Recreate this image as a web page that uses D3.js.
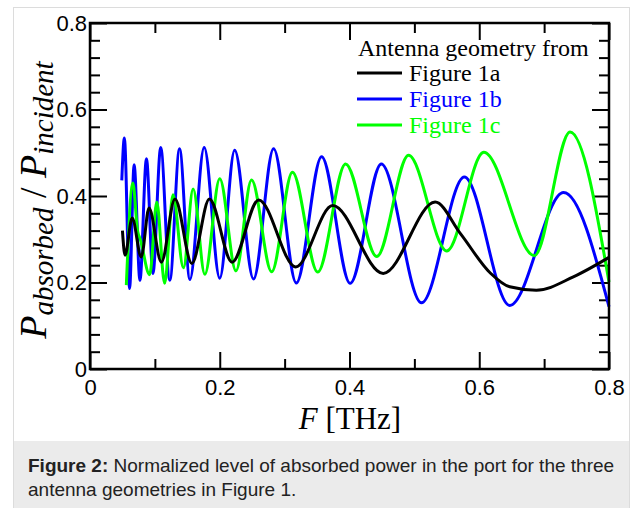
<!DOCTYPE html>
<html><head><meta charset="utf-8">
<script src="https://cdn.jsdelivr.net/npm/d3@7"></script>
<style>body{margin:0;background:#fff}svg{display:block}</style>
</head><body>
<svg id="chart" width="636" height="508"></svg>
<script>
// ---- data ----
const freqA = [0.050,0.054,0.065,0.079,0.091,0.110,0.131,0.157,0.184,0.219,0.260,0.317,0.374,0.452,0.532,0.571,0.617,0.647,0.688,0.745,0.800];
const valA  = [0.320,0.263,0.349,0.259,0.372,0.247,0.393,0.244,0.393,0.247,0.391,0.236,0.378,0.221,0.386,0.313,0.222,0.190,0.182,0.213,0.258];

const freqB = [0.049,0.053,0.061,0.068,0.077,0.087,0.097,0.109,0.123,0.138,0.154,0.176,0.200,0.223,0.252,0.283,0.318,0.357,0.401,0.449,0.511,0.577,0.647,0.730,0.800];
const valB  = [0.436,0.534,0.186,0.472,0.205,0.486,0.221,0.512,0.205,0.509,0.207,0.512,0.210,0.506,0.208,0.509,0.199,0.491,0.198,0.474,0.153,0.444,0.147,0.408,0.144];

const freqC = [0.056,0.066,0.0735,0.0775,0.092,0.103,0.115,0.128,0.144,0.159,0.177,0.200,0.225,0.249,0.280,0.312,0.351,0.394,0.442,0.491,0.550,0.607,0.685,0.740,0.800];
const valC  = [0.194,0.430,0.318,0.300,0.218,0.386,0.198,0.403,0.234,0.416,0.219,0.440,0.227,0.437,0.225,0.455,0.224,0.474,0.260,0.494,0.273,0.501,0.262,0.548,0.201];

const seriesNames  = ["Figure 1a","Figure 1b","Figure 1c"];
const seriesColors = ["#000000","#0000ff","#00ff00"];
const legendTitle  = "Antenna geometry from";
const xMajor = [0,0.2,0.4,0.6,0.8];
const xMinor = [0.1,0.3,0.5,0.7];
const yMajor = [0,0.2,0.4,0.6,0.8];
const yMinor = [0.04,0.08,0.12,0.16,0.24,0.28,0.32,0.36,0.44,0.48,0.52,0.56,0.64,0.68,0.72,0.76];
const captionBold = "Figure 2:";
const captionLine1 = " Normalized level of absorbed power in the port for the three";
const captionLine2 = "antenna geometries in Figure 1.";

// ---- layout ----
const svg = d3.select("#chart");
const L = 90, R = 609, T = 23, B = 369;
const x = d3.scaleLinear().domain([0,0.8]).range([L,R]);
const y = d3.scaleLinear().domain([0,0.8]).range([B,T]);

// outer frame and caption box
svg.append("rect").attr("x",13.5).attr("y",7.5).attr("width",616).attr("height",510)
  .attr("fill","#fff").attr("stroke","#dcdcdc").attr("stroke-width",1);
svg.append("rect").attr("x",14).attr("y",441).attr("width",615).attr("height",70)
  .attr("fill","#ebebeb");

const capFont = "'Liberation Sans', Arial, Helvetica, sans-serif";
const cap = svg.append("text").attr("x",28).attr("y",472)
  .attr("font-family",capFont).attr("font-size",19).attr("fill","#222");
cap.append("tspan").attr("font-weight","bold").text(captionBold);
cap.append("tspan").text(captionLine1);
svg.append("text").attr("x",28).attr("y",496)
  .attr("font-family",capFont).attr("font-size",19).attr("fill","#222").text(captionLine2);

// axes
const tickFont = "'Liberation Sans', Arial, Helvetica, sans-serif";
function styleAxis(g){
  g.select(".domain").remove();
  g.selectAll(".tick line").attr("stroke","#000").attr("stroke-width",2);
  g.selectAll(".tick text").attr("font-family",tickFont).attr("font-size",22).attr("fill","#000");
}
const fmt = d => d===0 ? "0" : d3.format(".1f")(d);

svg.append("g").attr("transform",`translate(0,${B})`)
  .call(d3.axisBottom(x).tickValues(xMajor).tickSizeInner(-17).tickSizeOuter(0).tickPadding(10).tickFormat(fmt))
  .call(styleAxis);
svg.append("g").attr("transform",`translate(0,${B})`)
  .call(d3.axisBottom(x).tickValues(xMinor).tickSizeInner(-10).tickSizeOuter(0).tickFormat(""))
  .call(styleAxis);
svg.append("g").attr("transform",`translate(0,${T})`)
  .call(d3.axisTop(x).tickValues(xMajor).tickSizeInner(-17).tickSizeOuter(0).tickFormat(""))
  .call(styleAxis);
svg.append("g").attr("transform",`translate(0,${T})`)
  .call(d3.axisTop(x).tickValues(xMinor).tickSizeInner(-10).tickSizeOuter(0).tickFormat(""))
  .call(styleAxis);

svg.append("g").attr("transform",`translate(${L},0)`)
  .call(d3.axisLeft(y).tickValues(yMajor).tickSizeInner(-17).tickSizeOuter(0).tickPadding(3).tickFormat(fmt))
  .call(styleAxis);
svg.append("g").attr("transform",`translate(${L},0)`)
  .call(d3.axisLeft(y).tickValues(yMinor).tickSizeInner(-10).tickSizeOuter(0).tickFormat(""))
  .call(styleAxis);
svg.append("g").attr("transform",`translate(${R},0)`)
  .call(d3.axisRight(y).tickValues(yMajor).tickSizeInner(-17).tickSizeOuter(0).tickFormat(""))
  .call(styleAxis);
svg.append("g").attr("transform",`translate(${R},0)`)
  .call(d3.axisRight(y).tickValues(yMinor).tickSizeInner(-10).tickSizeOuter(0).tickFormat(""))
  .call(styleAxis);

// curves
const series = [
  {f:freqA, v:valA},
  {f:freqB, v:valB},
  {f:freqC, v:valC}
];
const line = d3.line().x(d=>x(d[0])).y(d=>y(d[1])).curve(d3.curveMonotoneX);
const order = [1,2,0];
order.forEach(i=>{
  const pts = series[i].f.map((f,k)=>[f, series[i].v[k]]);
  svg.append("path").attr("d",line(pts)).attr("fill","none")
    .attr("stroke",seriesColors[i]).attr("stroke-width",3).attr("stroke-linejoin","round");
});

// frame
svg.append("rect").attr("x",L).attr("y",T).attr("width",R-L).attr("height",B-T)
  .attr("fill","none").attr("stroke","#000").attr("stroke-width",2.5);

// legend
const serif = "'Liberation Serif', 'Times New Roman', Times, serif";
svg.append("text").attr("x",358).attr("y",56).attr("font-family",serif).attr("font-size",24)
  .attr("fill","#000").text(legendTitle);
seriesNames.forEach((n,i)=>{
  const yy = 73 + i*26;
  svg.append("line").attr("x1",357).attr("x2",402).attr("y1",yy).attr("y2",yy)
    .attr("stroke",seriesColors[i]).attr("stroke-width",3);
  svg.append("text").attr("x",409).attr("y",yy+8).attr("font-family",serif).attr("font-size",24)
    .attr("fill",seriesColors[i]).text(n);
});

// x label
const xl = svg.append("text").attr("x",350).attr("y",429).attr("text-anchor","middle")
  .attr("font-family",serif).attr("font-size",31).attr("fill","#000");
xl.append("tspan").attr("font-style","italic").text("F");
xl.append("tspan").text(" [THz]");

// y label
const yl = svg.append("text").attr("transform","translate(46,200) rotate(-90)")
  .attr("text-anchor","middle").attr("font-family",serif).attr("font-size",38).attr("fill","#000");
yl.append("tspan").attr("font-style","italic").text("P");
yl.append("tspan").attr("font-style","italic").attr("font-size",29).attr("dy",7).text("absorbed");
yl.append("tspan").attr("dy",-7).text(" / ");
yl.append("tspan").attr("font-style","italic").text("P");
yl.append("tspan").attr("font-style","italic").attr("font-size",29).attr("dy",7).text("incident");
</script>
</body></html>
